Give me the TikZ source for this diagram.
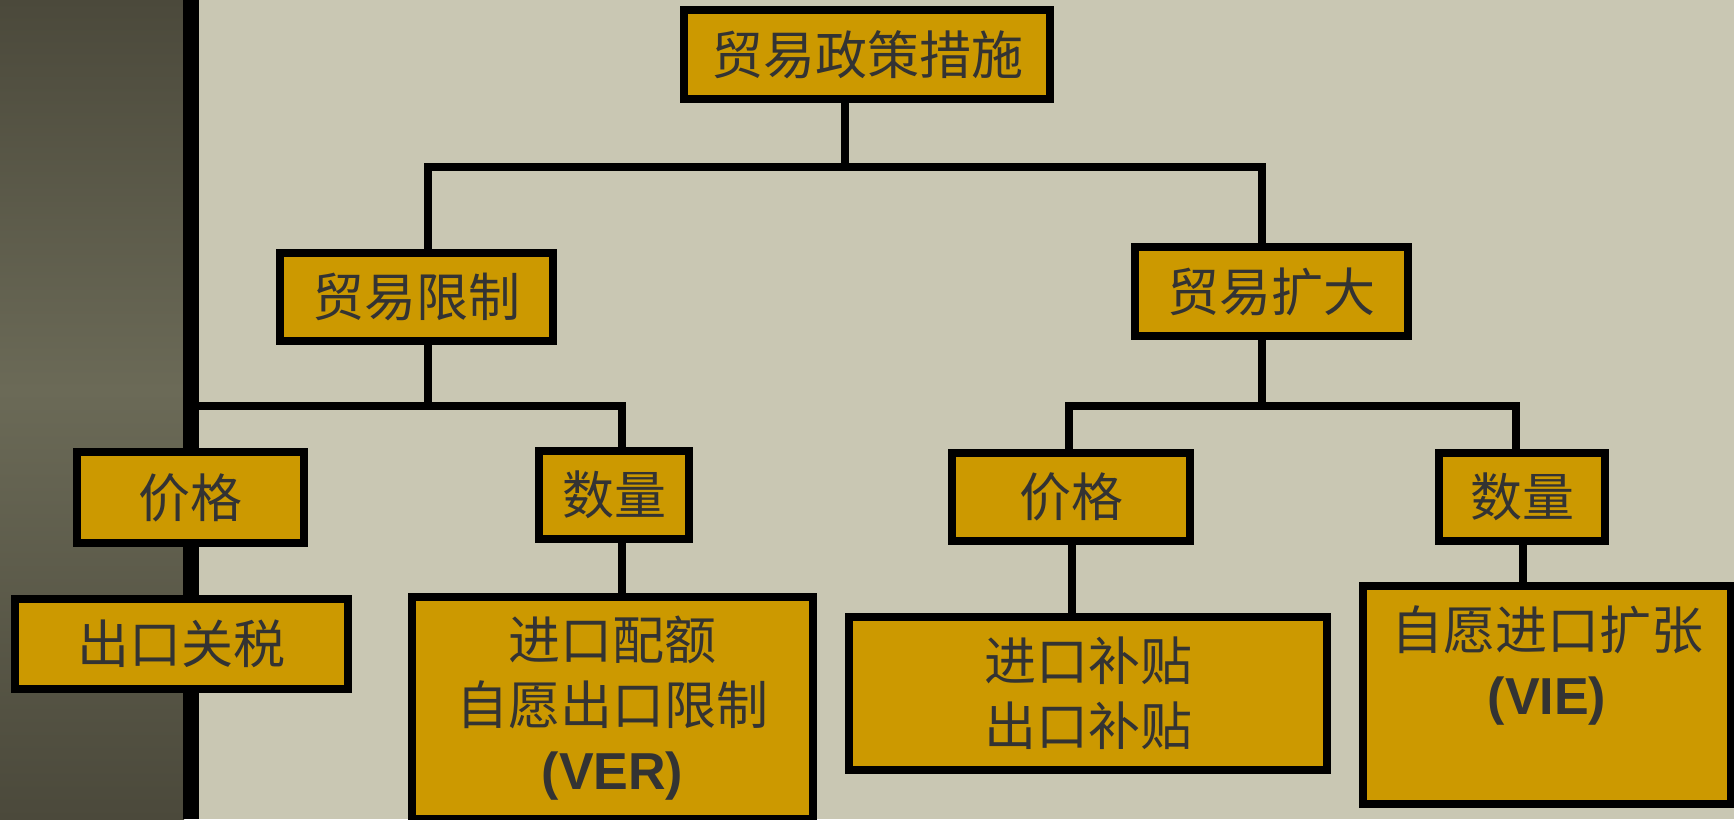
\documentclass[tikz,border=0pt]{standalone}
\usepackage{fontspec}
\newfontfamily\cjk{Noto Sans CJK SC}
\newfontfamily\latb{Liberation Sans}
\definecolor{bgc}{HTML}{C9C7B3}
\definecolor{stripmid}{HTML}{6B6A57}
\definecolor{stripend}{HTML}{4B493B}
\definecolor{boxfill}{HTML}{CC9900}
\definecolor{txt}{HTML}{333333}
\begin{document}
\begin{tikzpicture}[x=1pt,y=-1pt,
  box/.style={draw=black, line width=8pt, fill=boxfill, text=txt, inner sep=0pt,
    font=\cjk\fontsize{52}{65}\selectfont, align=center},
  lbl/.style={text=txt, inner sep=0pt, font=\cjk\fontsize{52}{65}\selectfont, align=center},
  conn/.style={draw=black, line width=8pt},
  bar/.style={draw=black, line width=16pt}]
\useasboundingbox (0,0) rectangle (1734,819);
\fill[bgc] (0,0) rectangle (1734,819);
\shade[top color=stripend, bottom color=stripmid] (0,0) rectangle (184,390);
\shade[top color=stripmid, bottom color=stripend] (0,389.5) rectangle (184,819);
\coordinate (barT) at (191,0);
\coordinate (barB) at (191,819);
\draw[bar] (barT) -- (barB);

\node[box, minimum width=366pt, minimum height=89pt] (top) at (867,54.5) {贸易政策措施};
\node[box, minimum width=273pt, minimum height=88pt] (lim) at (416.5,297) {贸易限制};
\node[box, minimum width=273pt, minimum height=89pt] (exp) at (1271.5,291.5) {贸易扩大};
\node[box, minimum width=227pt, minimum height=91pt] (pr1) at (190.5,497.5) {价格};
\node[box, minimum width=150pt, minimum height=88pt] (qty1) at (614,495) {数量};
\node[box, minimum width=238pt, minimum height=88pt] (pr2) at (1071,497) {价格};
\node[box, minimum width=166pt, minimum height=88pt] (qty2) at (1522,497) {数量};
\node[box, minimum width=333pt, minimum height=90pt] (tax) at (181.5,644) {出口关税};
\node[box, minimum width=401pt, minimum height=222pt] (ver) at (612.5,708)
  {进口配额\\自愿出口限制\\{\latb\bfseries\fontsize{52}{65}\selectfont (VER)}};
\node[box, minimum width=478pt, minimum height=153pt] (sub) at (1088,693.5) {进口补贴\\出口补贴};
\node[box, minimum width=368pt, minimum height=218pt] (vie) at (1547,695) {};
\node[lbl, anchor=north] (viet) at ([yshift=-24pt]vie.north)
  {自愿进口扩张\\{\latb\bfseries\fontsize{52}{65}\selectfont (VIE)}};

\coordinate (jT) at (845,167);
\coordinate (jL) at (428,167);
\coordinate (jR) at (1262,167);
\draw[conn] (top.south -| jT) -- (jT);
\draw[conn] (lim.north -| jL) -- (jL) -- (jR) -- (exp.north -| jR);

\coordinate (kL) at (428,406);
\coordinate (kB) at (191,406);
\coordinate (kQ) at (622,406);
\draw[conn] (lim.south -| kL) -- (kL);
\draw[conn] (kB) -- (kQ) -- (qty1.north -| kQ);

\coordinate (kR) at (1262,406);
\coordinate (kP2) at (1069,406);
\coordinate (kQ2) at (1516,406);
\draw[conn] (exp.south -| kR) -- (kR);
\draw[conn] (pr2.north -| kP2) -- (kP2) -- (kQ2) -- (qty2.north -| kQ2);

\draw[conn] (qty1.south -| kQ) -- (ver.north -| kQ);
\coordinate (mP2) at (1072,0);
\draw[conn] (pr2.south -| mP2) -- (sub.north -| mP2);
\coordinate (mQ2) at (1523,0);
\draw[conn] (qty2.south -| mQ2) -- (vie.north -| mQ2);
\end{tikzpicture}
\end{document}
